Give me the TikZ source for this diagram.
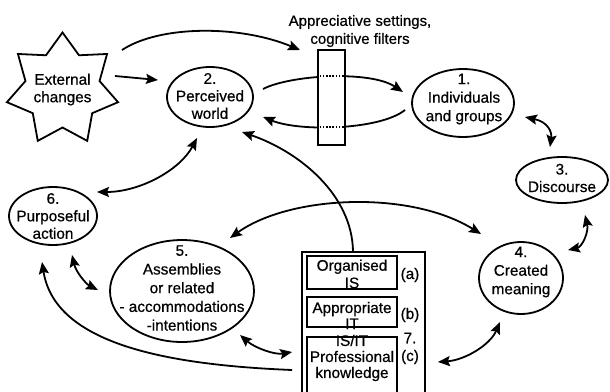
\documentclass[tikz,border=0pt]{standalone}
\usepackage{fontspec}
\setmainfont{Liberation Sans}[BoldFont=Liberation Sans, BoldFeatures={FakeBold=0.6}]
\usetikzlibrary{arrows.meta,calc,shapes.geometric}
\begin{document}
\begin{tikzpicture}[x=1pt,y=-1pt,
  ln/.style={line width=1.8pt},
  ell/.style={ellipse, draw, line width=1.8pt, inner sep=0pt},
  boxr/.style={rectangle, draw, line width=1.8pt, inner sep=0pt},
  txt/.style={align=center, font=\bfseries\fontsize{15.3}{17.5}\selectfont, inner sep=0pt},
  tip/.tip={Stealth[length=12pt,width=10pt,inset=2pt]},
  arr/.style={line width=1.8pt, -tip},
  darr/.style={line width=1.8pt, tip-tip},
]
\useasboundingbox (0,0) rectangle (610,391);
\clip (0,0) rectangle (610,391);

% external changes (star)
\node[txt] (ext) at (62.5,89.5) {External\\changes};
\draw[ln, line join=miter] ($(ext)+(-90:57)$) \foreach \k in {1,...,13}{ -- ($(ext)+({-90-\k*25.714}:{isodd(\k)*38+(1-isodd(\k))*57})$) } -- cycle;

% ellipses
\node[ell, minimum width=86pt, minimum height=60pt] (p2) at (210,97) {};
\node[txt] at (210,96) {2.\\Perceived\\world};
\node[ell, minimum width=102pt, minimum height=68pt] (p1) at (463,103) {};
\node[txt, font=\bfseries\fontsize{15.3}{18.5}\selectfont] at (464,99) {1.\\Individuals\\and groups};
\node[ell, minimum width=92pt, minimum height=46pt] (p3) at (562,180) {};
\node[txt] at (562,178) {3.\\Discourse};
\node[ell, minimum width=84pt, minimum height=72pt] (p4) at (521,278) {};
\node[txt, font=\bfseries\fontsize{15.3}{18.5}\selectfont] at (521,272) {4.\\Created\\meaning};
\node[ell, minimum width=88pt, minimum height=58pt] (p6) at (53,216) {};
\node[txt] at (53,216) {6.\\Purposeful\\action};
\node[ell, minimum width=144pt, minimum height=102pt] (p5) at (182,291) {};
\node[txt, font=\bfseries\fontsize{15.3}{18.7}\selectfont] at (182,288) {5.\\Assemblies\\or related\\- accommodations\\-intentions};

% box 7
\node[boxr, minimum width=123pt, minimum height=148pt] (box7) at (363.5,326) {};
\node[boxr, minimum width=90pt, minimum height=33pt] (ba) at (352,272.5) {};
\node[boxr, minimum width=90pt, minimum height=30pt] (bb) at (352,312) {};
\node[boxr, minimum width=90pt, minimum height=63pt] (bc) at (352,368.5) {};
\node[txt] at (352,274) {Organised\\IS};
\node[txt, font=\bfseries\fontsize{15.3}{16}\selectfont] at (352,315.5) {Appropriate\\IT};
\node[txt, font=\bfseries\fontsize{15.3}{16}\selectfont] at (352,358) {IS/IT\\Professional\\knowledge};
\node[txt] (la) at (410,275) {(a)};
\node[txt] (lb) at (410,315) {(b)};
\node[txt] (l7) at (410,338) {7.};
\node[txt] (lc) at (410,357) {(c)};

% label
\node[txt, font=\bfseries\fontsize{15}{18}\selectfont] (app) at (360,31) {Appreciative settings,\\cognitive filters};

% connectors
\draw[arr] ($(ext)+(52.5,-13.5)$) -- ($(p2)+(-52,-17)$);
\draw[arr] ($(ext)+(59.5,-39.5)$) .. controls (160,25) and (240,25) .. ($(app)+(-60,19)$);
\draw[arr] ($(p2)+(53,-8)$) .. controls (290,75) and (370,70) .. ($(p1)+(-60,-11)$);
\draw[arr] ($(p1)+(-58,7)$) .. controls (380,130) and (300,132) .. ($(p2)+(53,20)$);

% filter bar
\node[boxr, fill=white, minimum width=27pt, minimum height=95pt] (filt) at (331.5,97.5) {};
\draw[ln, dash pattern=on 1.6pt off 1.6pt] ($(filt.west)+(2.5,-21.5)$) -- ($(filt.east)+(-2,-21.5)$);
\draw[ln, dash pattern=on 1.6pt off 1.6pt] ($(filt.west)+(2.5,29.5)$) -- ($(filt.east)+(-2,29.5)$);

\draw[darr] ($(p1)+(62,14)$) .. controls (548,122) and (552,132) .. ($(p3)+(-12,-33)$);
\draw[darr] ($(p3)+(23,35)$) .. controls (589,232) and (582,247) .. ($(p4)+(47,-28)$);
\draw[darr] ($(p2)+(-13,41)$) .. controls (180,170) and (140,192) .. ($(p6)+(44,-24)$);
\draw[arr] ($(box7.north)+(-10.5,0)$) .. controls (352,195) and (300,152) .. ($(p2)+(32,35)$);
\draw[darr] ($(p5)+(48,-53)$) .. controls (290,195) and (410,190) .. ($(p4)+(-40,-44)$);
\draw[darr] ($(p6)+(19,39)$) .. controls (76,272) and (86,284) .. ($(p5)+(-84,-1)$);
\draw[arr] ($(box7.west)+(-9,44)$) .. controls (170,365) and (55,345) .. ($(p6)+(-11,46)$);
\draw[darr] ($(p5)+(58,44)$) .. controls (255,348) and (275,355) .. ($(box7.west)+(-9,26)$);
\draw[darr] ($(p4)+(-21,44)$) .. controls (490,345) and (465,360) .. ($(box7.east)+(12,36)$);
\end{tikzpicture}
\end{document}
